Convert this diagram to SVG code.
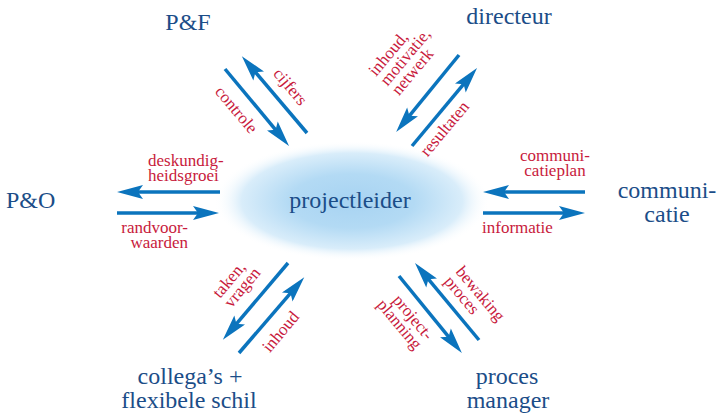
<svg xmlns="http://www.w3.org/2000/svg" width="720" height="413" viewBox="0 0 720 413">
  <style>
    .node { font-family: "Liberation Serif", serif; fill: #1b4d88; font-size: 24px; }
    .lbl { font-family: "Liberation Serif", serif; fill: #c81a3c; font-size: 17px; }
    .arr { stroke: #0b74bd; stroke-width: 3.5; fill: none; marker-end: url(#head); }
  </style>
  <defs>
    <radialGradient id="glow" cx="0.5" cy="0.5" r="0.5">
      <stop offset="0" stop-color="#a7d3f2"/>
      <stop offset="0.45" stop-color="#b3daf4"/>
      <stop offset="0.8" stop-color="#d9edfa"/>
      <stop offset="1" stop-color="#ffffff" stop-opacity="0"/>
    </radialGradient>
    <marker id="head" markerUnits="userSpaceOnUse" viewBox="0 0 28 14" markerWidth="28" markerHeight="14" refX="10" refY="7" orient="auto">
      <path d="M2,0 L28,7 L2,14 L7,7 Z" fill="#0b74bd"/>
    </marker>
  </defs>
  <rect width="720" height="413" fill="#ffffff"/>

  <g id="projectleider">
    <ellipse cx="352" cy="201" rx="138" ry="60" fill="url(#glow)"/>
    <text class="node" x="350" y="208" text-anchor="middle">projectleider</text>
  </g>
  <g id="pf">
    <text class="node" x="188" y="30" text-anchor="middle" font-size="22">P&amp;F</text>
  </g>
  <g id="directeur">
    <text class="node" x="509" y="24" text-anchor="middle">directeur</text>
  </g>
  <g id="po">
    <text class="node" x="6" y="208" font-size="22">P&amp;O</text>
  </g>
  <g id="communicatie">
    <text class="node" x="667" y="198" text-anchor="middle">communi-</text>
    <text class="node" x="667" y="222" text-anchor="middle">catie</text>
  </g>
  <g id="collegas">
    <text class="node" x="190" y="384" text-anchor="middle">collega’s +</text>
    <text class="node" x="189" y="408" text-anchor="middle">flexibele schil</text>
  </g>
  <g id="procesmanager">
    <text class="node" x="507" y="384" text-anchor="middle">proces</text>
    <text class="node" x="508" y="408" text-anchor="middle">manager</text>
  </g>

  <g id="connectors">
    <!-- P&F -->
    <line class="arr" x1="225" y1="69" x2="277.5" y2="132.1"/>
    <line class="arr" x1="307" y1="133" x2="253.5" y2="69.9"/>
    <text class="lbl" transform="translate(236,110) rotate(50)" y="5" text-anchor="middle">controle</text>
    <text class="lbl" transform="translate(290,87) rotate(50)" y="5" text-anchor="middle">cijfers</text>
    <!-- directeur -->
    <line class="arr" x1="459" y1="55" x2="407.5" y2="118.1"/>
    <line class="arr" x1="412" y1="146" x2="465.5" y2="81.9"/>
    <g transform="translate(376,77) rotate(-50)">
      <text class="lbl" x="0" y="0">inhoud,</text>
      <text class="lbl" x="0" y="15">motivatie,</text>
      <text class="lbl" x="0" y="30">netwerk</text>
    </g>
    <text class="lbl" transform="translate(445,129) rotate(-50)" y="5" text-anchor="middle">resultaten</text>
    <!-- P&O -->
    <line class="arr" x1="220" y1="192" x2="135" y2="192"/>
    <line class="arr" x1="117" y1="213" x2="201" y2="213"/>
    <text class="lbl" x="148" y="166">deskundig-</text>
    <text class="lbl" x="148" y="181">heidsgroei</text>
    <text class="lbl" x="188" y="233" text-anchor="end">randvoor-</text>
    <text class="lbl" x="188" y="248" text-anchor="end">waarden</text>
    <!-- communicatie -->
    <line class="arr" x1="585" y1="192" x2="501" y2="192"/>
    <line class="arr" x1="483" y1="213" x2="567" y2="213"/>
    <text class="lbl" x="555" y="161" text-anchor="middle">communi-</text>
    <text class="lbl" x="555" y="176" text-anchor="middle">catieplan</text>
    <text class="lbl" x="482" y="233">informatie</text>
    <!-- collega's -->
    <line class="arr" x1="288" y1="263" x2="234.5" y2="326.1"/>
    <line class="arr" x1="239" y1="353" x2="292.5" y2="290.9"/>
    <g transform="translate(220,299) rotate(-50)">
      <text class="lbl" x="0" y="0">taken,</text>
      <text class="lbl" x="0" y="15">vragen</text>
    </g>
    <text class="lbl" transform="translate(281,332) rotate(-50)" y="5" text-anchor="middle">inhoud</text>
    <!-- proces manager -->
    <line class="arr" x1="399" y1="276" x2="450.5" y2="339.1"/>
    <line class="arr" x1="479" y1="340" x2="426.5" y2="276.9"/>
    <g transform="translate(455,272) rotate(50)">
      <text class="lbl" x="0" y="0">bewaking</text>
      <text class="lbl" x="0" y="15">proces</text>
    </g>
    <g transform="translate(426,341) rotate(50)">
      <text class="lbl" x="0" y="0" text-anchor="end">project-</text>
      <text class="lbl" x="0" y="15" text-anchor="end">planning</text>
    </g>
  </g>
</svg>
